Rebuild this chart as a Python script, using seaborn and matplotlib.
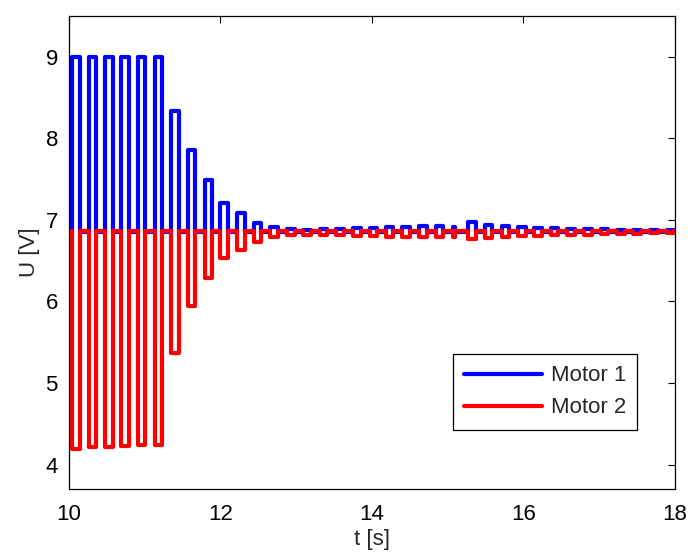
import numpy as np
import pandas as pd
import matplotlib
matplotlib.use("Agg")
import matplotlib.pyplot as plt
import seaborn as sns
from matplotlib.lines import Line2D

# ---- data ----
pulse_start = [10.04, 10.26, 10.48, 10.69, 10.91, 11.13, 11.35, 11.57, 11.79, 12.00,
               12.22, 12.44, 12.66, 12.88, 13.09, 13.31, 13.53, 13.75, 13.97, 14.18,
               14.40, 14.62, 14.84, 15.07, 15.27, 15.49, 15.71, 15.93, 16.14, 16.36,
               16.58, 16.80, 17.02, 17.24, 17.45, 17.67, 17.89]
pulse_width = [0.10] * 23 + [0.02] + [0.10] * 13
motor1_peak = [9.0, 9.0, 9.0, 9.0, 9.0, 9.0, 8.33, 7.86, 7.49, 7.21,
               7.08, 6.96, 6.91, 6.89, 6.88, 6.885, 6.89, 6.90, 6.905, 6.91,
               6.915, 6.92, 6.92, 6.91, 6.97, 6.94, 6.925, 6.91, 6.905, 6.90,
               6.89, 6.885, 6.885, 6.88, 6.88, 6.875, 6.875]
motor2_trough = [4.19, 4.21, 4.22, 4.23, 4.24, 4.24, 5.37, 5.94, 6.29, 6.53,
                 6.63, 6.73, 6.79, 6.81, 6.82, 6.82, 6.81, 6.805, 6.80, 6.795,
                 6.79, 6.79, 6.785, 6.79, 6.77, 6.78, 6.79, 6.80, 6.805, 6.81,
                 6.815, 6.82, 6.825, 6.83, 6.83, 6.835, 6.84]
motor1_base = 6.85
motor2_base = 6.86
t_start, t_end = 10.0, 18.0
series_names = ["Motor 1", "Motor 2"]
x_ticks = [10, 12, 14, 16, 18]
y_ticks = [4, 5, 6, 7, 8, 9]


def step_signal(base, levels):
    t = [t_start]
    u = [base]
    for s, w, v in zip(pulse_start, pulse_width, levels):
        t += [s, s, s + w, s + w]
        u += [base, v, v, base]
    t.append(t_end)
    u.append(base)
    return t, u


rows = []
for name, base, lev in [(series_names[0], motor1_base, motor1_peak),
                        (series_names[1], motor2_base, motor2_trough)]:
    t, u = step_signal(base, lev)
    for i, (ti, ui) in enumerate(zip(t, u)):
        rows.append({"t": ti, "U": ui, "motor": name, "i": i})
df = pd.DataFrame(rows)

sns.set_style("white")
plt.rcParams["font.family"] = ["Liberation Sans", "DejaVu Sans"]

fig = plt.figure(figsize=(6.92, 5.56), dpi=100)
ax = fig.add_axes([0.0997, 0.1205, 0.8757, 0.8507])

colors = {"Motor 1": (0, 0, 1), "Motor 2": (1, 0, 0)}
lw = 3.0
sns.lineplot(data=df, x="t", y="U", hue="motor", sort=False, estimator=None,
             palette=colors, linewidth=lw, ax=ax, legend=False)

fs = 16
ax.set_xlim(10, 18)
ax.set_ylim(3.7, 9.5)
ax.set_xticks(x_ticks)
ax.set_yticks(y_ticks)
ax.tick_params(direction="in", length=5, width=0.8, top=True, right=True,
               labelsize=fs, colors="black")
ax.tick_params(axis="x", pad=11)
ax.tick_params(axis="y", pad=8)
for sp in ax.spines.values():
    sp.set_visible(True)
    sp.set_color("black")
    sp.set_linewidth(0.9)
ax.set_xlabel("t [s]", fontsize=fs, labelpad=3)
ax.set_ylabel("U [V]", fontsize=fs, labelpad=4)

handles = [Line2D([0], [0], color=colors[n], linewidth=lw) for n in series_names]
leg = ax.legend(handles, series_names, loc="upper left",
                bbox_to_anchor=(0.634, 0.285), borderaxespad=0,
                fontsize=fs, frameon=True, fancybox=False, framealpha=1,
                edgecolor="black", handlelength=3.5, handletextpad=0.4,
                borderpad=0.5, labelspacing=0.5)
leg.get_frame().set_linewidth(0.9)

fig.savefig("out.png", dpi=100)
